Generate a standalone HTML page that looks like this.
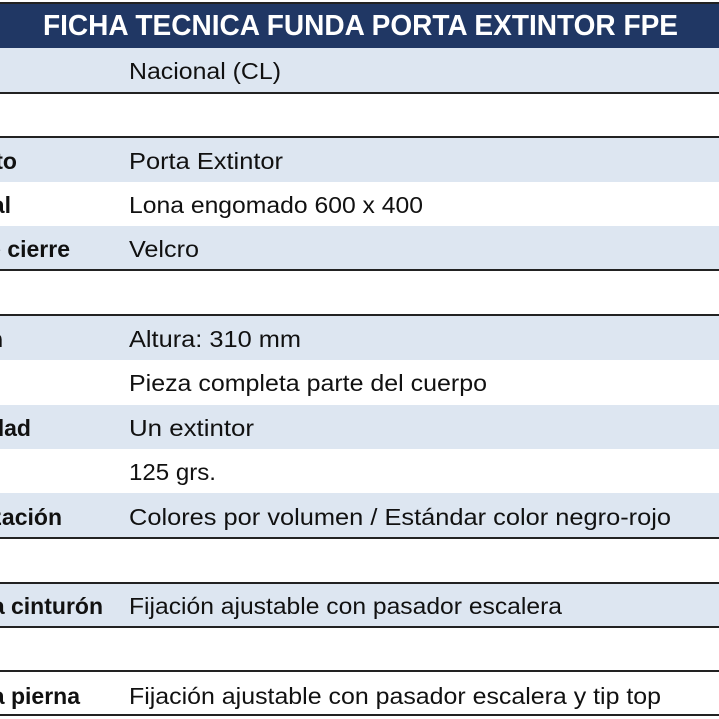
<!DOCTYPE html>
<html><head><meta charset="utf-8"><style>
html,body{margin:0;padding:0;background:#fff;width:719px;height:719px;overflow:hidden}
svg{display:block}
.v{font-family:"Liberation Sans",sans-serif;font-size:23px;fill:#111}
.l{font-family:"Liberation Sans",sans-serif;font-size:23px;font-weight:bold;fill:#111}
</style></head><body>
<svg width="719" height="719" viewBox="0 0 719 719" xmlns="http://www.w3.org/2000/svg">
<rect x="0" y="0" width="719" height="719" fill="#fff"/>
<rect x="0" y="3" width="719" height="45" fill="#203764"/>
<rect x="0" y="2" width="719" height="2" fill="#222"/>
<text x="43" y="35" textLength="635" lengthAdjust="spacingAndGlyphs" font-family="Liberation Sans, sans-serif" font-size="29" font-weight="bold" fill="#fff">FICHA TECNICA FUNDA PORTA EXTINTOR FPE</text>
<g fill="#dde6f1">
<rect x="0" y="48" width="719" height="44"/>
<rect x="0" y="137" width="719" height="45"/>
<rect x="0" y="226" width="719" height="43"/>
<rect x="0" y="315" width="719" height="45"/>
<rect x="0" y="405" width="719" height="44"/>
<rect x="0" y="493" width="719" height="45"/>
<rect x="0" y="583" width="719" height="44"/>
</g>
<g fill="#222">
<rect x="0" y="92" width="719" height="2"/>
<rect x="0" y="136" width="719" height="2"/>
<rect x="0" y="269" width="719" height="2"/>
<rect x="0" y="314" width="719" height="2"/>
<rect x="0" y="537" width="719" height="2"/>
<rect x="0" y="582" width="719" height="2"/>
<rect x="0" y="626" width="719" height="2"/>
<rect x="0" y="670" width="719" height="2"/>
<rect x="0" y="714" width="719" height="2"/>
</g>
<text class="v" x="129" y="79" textLength="152" lengthAdjust="spacingAndGlyphs">Nacional  (CL)</text>
<text class="l" x="17" y="169" text-anchor="end">Producto</text>
<text class="v" x="129" y="169" textLength="154" lengthAdjust="spacingAndGlyphs">Porta Extintor</text>
<text class="l" x="11" y="213" text-anchor="end">Material</text>
<text class="v" x="129" y="213" textLength="294" lengthAdjust="spacingAndGlyphs">Lona engomado 600 x 400</text>
<text class="l" x="70" y="257" text-anchor="end">Tipo de cierre</text>
<text class="v" x="129" y="257" textLength="70" lengthAdjust="spacingAndGlyphs">Velcro</text>
<text class="l" x="3" y="347" text-anchor="end">Dimensión</text>
<text class="v" x="129" y="347" textLength="172" lengthAdjust="spacingAndGlyphs">Altura: 310 mm</text>
<text class="v" x="129" y="391" textLength="358" lengthAdjust="spacingAndGlyphs">Pieza completa parte del cuerpo</text>
<text class="l" x="31" y="436" text-anchor="end">Capacidad</text>
<text class="v" x="129" y="436" textLength="125" lengthAdjust="spacingAndGlyphs">Un extintor</text>
<text class="v" x="129" y="480" textLength="87" lengthAdjust="spacingAndGlyphs">125 grs.</text>
<text class="l" x="62" y="525" text-anchor="end">Personalización</text>
<text class="v" x="129" y="525" textLength="542" lengthAdjust="spacingAndGlyphs">Colores por volumen / Estándar color negro-rojo</text>
<text class="l" x="103" y="614" text-anchor="end">Sujeción a cinturón</text>
<text class="v" x="129" y="614" textLength="433" lengthAdjust="spacingAndGlyphs">Fijación ajustable con pasador escalera</text>
<text class="l" x="80" y="704" text-anchor="end">Sujeción a pierna</text>
<text class="v" x="129" y="704" textLength="532" lengthAdjust="spacingAndGlyphs">Fijación ajustable con pasador escalera y tip top</text>
</svg>
</body></html>
